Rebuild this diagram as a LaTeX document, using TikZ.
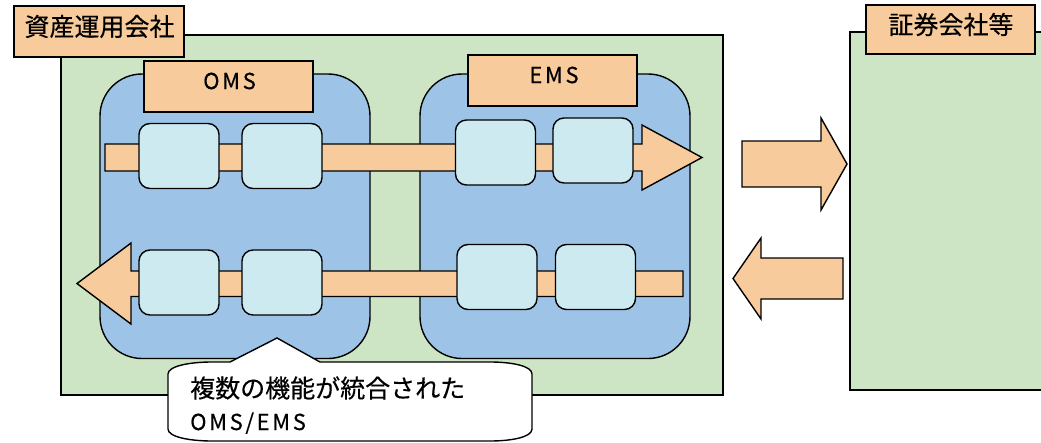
\documentclass[tikz,border=0pt]{standalone}
\usepackage{fontspec}
\setmainfont[FakeBold=0.4]{Noto Sans CJK JP}
\newfontfamily\latfont[LetterSpace=12,FakeBold=0.4]{Noto Sans CJK JP}
\definecolor{peach}{HTML}{F8CB9C}
\definecolor{areagreen}{HTML}{CDE5C4}
\definecolor{sysblue}{HTML}{9DC3E6}
\definecolor{funccyan}{HTML}{CDEAF0}
\begin{document}
\begin{tikzpicture}[x=1pt,y=-1pt,
  ol/.style={draw=black,line width=1.4pt,line join=miter},
  boxshape/.style={ol,rectangle,inner sep=0pt},
  area/.style={boxshape,fill=areagreen},
  tag/.style={boxshape,fill=peach},
  system/.style={boxshape,fill=sysblue,rounded corners=42pt},
  func/.style={boxshape,fill=funccyan,rounded corners=11pt,minimum width=80pt,minimum height=65pt},
  flow/.style={ol,fill=peach},
  jptext/.style={inner sep=0pt,font=\fontsize{25}{30}\selectfont},
  lattext/.style={inner sep=0pt,font=\fontsize{22}{26}\latfont}]
\useasboundingbox (0,0) rectangle (1041,442);
% areas
\node[area,minimum width=662pt,minimum height=360pt] (assetarea) at (392,215) {};
\node[area,minimum width=200pt,minimum height=358pt] (brokerarea) at (950,211) {};
\node[tag,minimum width=170pt,minimum height=51pt] (assetlbl) at (99,31.5) {};
\node[jptext] (assettxt) at (99.5,26.5) {資産運用会社};
\node[tag,minimum width=169pt,minimum height=49pt] (brokerlbl) at (950.5,29.5) {};
\node[jptext] (brokertxt) at (951,24.5) {証券会社等};
% systems
\node[system,minimum width=270pt,minimum height=284.5pt] (omsbox) at (235,216.25) {};
\node[system,minimum width=270pt,minimum height=284.5pt] (emsbox) at (555,216.25) {};
\node[tag,minimum width=169pt,minimum height=51pt] (omslbl) at (228.5,86.5) {};
\node[lattext] (omstxt) at (229.5,81) {OMS};
\node[tag,minimum width=169pt,minimum height=51pt] (emslbl) at (552.5,80.5) {};
\node[lattext] (emstxt) at (554,75) {EMS};
% flow arrows inside
\draw[flow] (105,144) -- (642,144) -- (642,125) -- (702,157.5) -- (642,190) -- (642,171) -- (105,171) -- cycle;
\draw[flow] (683,271) -- (131,271) -- (131,243) -- (77,283.5) -- (131,324) -- (131,296.5) -- (683,296.5) -- cycle;
% functions
\node[func] (f1) at (179,156) {};
\node[func] (f2) at (282,156) {};
\node[func] (f3) at (495.5,152.5) {};
\node[func] (f4) at (593,150.5) {};
\node[func] (f5) at (179,282.5) {};
\node[func] (f6) at (282,282.5) {};
\node[func] (f7) at (497,277) {};
\node[func] (f8) at (595.5,277) {};
% outer arrows
\draw[flow] (742,141) -- (821,141) -- (821,118) -- (847,164) -- (821,210) -- (821,187) -- (742,187) -- cycle;
\draw[flow] (843,258) -- (761,258) -- (761,238) -- (733,278.5) -- (761,319) -- (761,299) -- (843,299) -- cycle;
% callout
\draw[ol,fill=white] (168,374) .. controls (168,366) and (190,362) .. (212,362) -- (230,362) -- (277,338) -- (320,362) -- (490,362) .. controls (512,362) and (532,366) .. (532,374) -- (532,429) .. controls (532,437) and (512,441) .. (490,441) -- (212,441) .. controls (190,441) and (168,437) .. (168,429) -- cycle;
\node[jptext,anchor=base west] (calltxt1) at (190,397.5) {複数の機能が統合された};
\node[lattext,anchor=base west] (calltxt2) at (190,430) {OMS/EMS};
\end{tikzpicture}
\end{document}
